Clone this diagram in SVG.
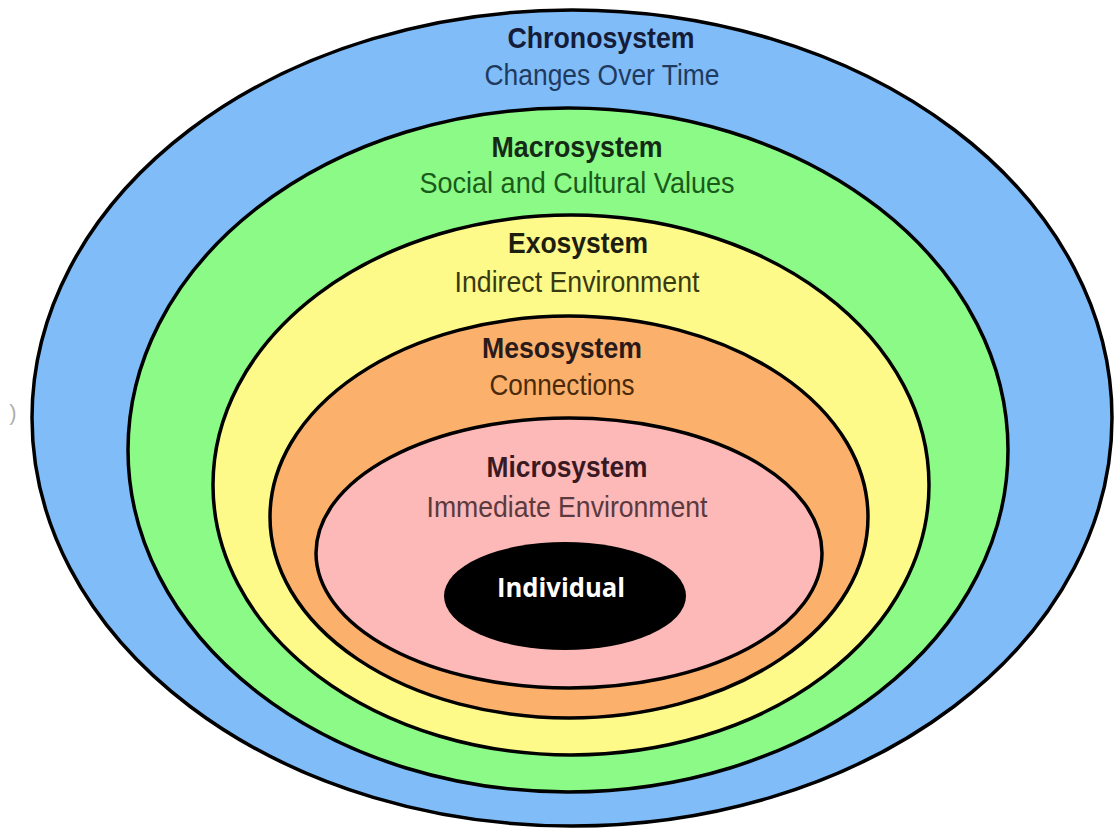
<svg xmlns="http://www.w3.org/2000/svg" width="1118" height="830" viewBox="0 0 1118 830">
<style>
.ring{stroke:#000;stroke-width:3.5}
.t{font-family:"Liberation Sans",Arial,sans-serif;font-weight:bold;font-size:30px;text-anchor:middle}
.s{font-family:"Liberation Sans",Arial,sans-serif;font-size:30px;text-anchor:middle}
</style>
<rect width="1118" height="830" fill="#fff"/>
<text x="13" y="420" font-family="Liberation Sans, sans-serif" font-size="22" fill="#b0b0b0" text-anchor="middle">)</text>
<g id="chronosystem">
<ellipse class="ring" cx="572" cy="418" rx="540" ry="408" fill="#80bcf8"/>
<text class="t" x="601" y="48" fill="#151c3a" textLength="187" lengthAdjust="spacingAndGlyphs">Chronosystem</text>
<text class="s" x="602" y="85" fill="#1f3a5f" textLength="235" lengthAdjust="spacingAndGlyphs">Changes Over Time</text>
</g>
<g id="macrosystem">
<ellipse class="ring" cx="568" cy="450" rx="440" ry="342" fill="#8cfa86"/>
<text class="t" x="577" y="157" fill="#152a15" textLength="171" lengthAdjust="spacingAndGlyphs">Macrosystem</text>
<text class="s" x="577" y="193" fill="#1a5a1a" textLength="315" lengthAdjust="spacingAndGlyphs">Social and Cultural Values</text>
</g>
<g id="exosystem">
<ellipse class="ring" cx="571" cy="485" rx="358" ry="270" fill="#fdfa8a"/>
<text class="t" x="578" y="253" fill="#1e1e10" textLength="140" lengthAdjust="spacingAndGlyphs">Exosystem</text>
<text class="s" x="577" y="292" fill="#3a3a12" textLength="245" lengthAdjust="spacingAndGlyphs">Indirect Environment</text>
</g>
<g id="mesosystem">
<ellipse class="ring" cx="569" cy="517" rx="299" ry="201" fill="#fbb16c"/>
<text class="t" x="562" y="358" fill="#2a1a1a" textLength="160" lengthAdjust="spacingAndGlyphs">Mesosystem</text>
<text class="s" x="562" y="395" fill="#4a2a0a" textLength="145" lengthAdjust="spacingAndGlyphs">Connections</text>
</g>
<g id="microsystem">
<ellipse class="ring" cx="569" cy="553" rx="253" ry="135" fill="#fdb8b8"/>
<text class="t" x="567" y="477" fill="#3a1a22" textLength="161" lengthAdjust="spacingAndGlyphs">Microsystem</text>
<text class="s" x="567" y="517" fill="#5a3a3e" textLength="281" lengthAdjust="spacingAndGlyphs">Immediate Environment</text>
</g>
<g id="individual">
<ellipse cx="565" cy="596" rx="121" ry="54" fill="#000"/>
<text x="561" y="597" font-family="Open Sans, Liberation Sans, sans-serif" font-weight="bold" font-size="27" fill="#fff" text-anchor="middle" textLength="128" lengthAdjust="spacingAndGlyphs">Individual</text>
</g>
<g id="connectors"/>
</svg>
